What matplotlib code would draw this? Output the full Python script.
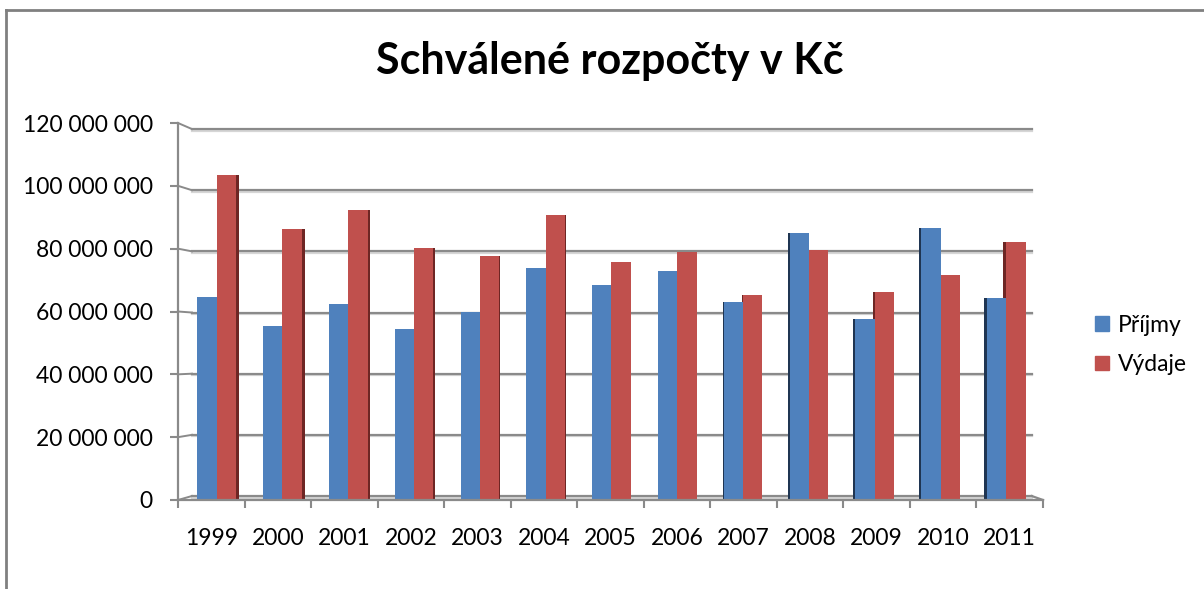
import matplotlib
matplotlib.use("Agg")
import matplotlib.pyplot as plt
from matplotlib.patches import Rectangle
from matplotlib.lines import Line2D

years = ["1999", "2000", "2001", "2002", "2003", "2004", "2005",
         "2006", "2007", "2008", "2009", "2010", "2011"]
prijmy = [64.7, 55.3, 62.3, 54.3, 59.7, 73.8, 68.3, 73.0, 63.1, 84.9, 57.7, 86.5, 64.4]
vydaje = [103.4, 86.4, 92.3, 80.3, 77.6, 90.6, 75.8, 79.0, 65.3, 79.6, 66.3, 71.5, 82.1]
series_names = ["Příjmy", "Výdaje"]
yticks = [0, 20, 40, 60, 80, 100, 120]  # v milionech

BLUE = "#4F81BD"
RED = "#C0504D"
BLUE_SIDE = "#1F3552"
RED_SIDE = "#6E2624"
GRID = "#8A8A8A"

plt.rcParams["font.family"] = ["Lato", "DejaVu Sans"]

fig = plt.figure(figsize=(12.04, 5.89), dpi=100)
ax = fig.add_axes([178 / 1204, 89 / 589, 865 / 1204, 377 / 589])
ax.set_xlim(-0.5, 12.5)
ax.set_ylim(0, 120)


def back(v):
    # hodnota na zadni stene prevedena do prednich souradnic
    return (4 + 3.058 * v) / 3.1417


gx0, gx1 = -0.29, 12.33
for t in yticks:
    yb = back(t)
    ax.plot([gx0, gx1], [yb - 0.5, yb - 0.5], color="#D6D6D6", lw=1.6, zorder=1)
    ax.plot([gx0, gx1], [yb, yb], color=GRID, lw=1.6, zorder=1.1)
    ax.plot([-0.5, gx0], [t, yb], color=GRID, lw=1.4, zorder=1.1, clip_on=False)
ax.plot([gx1, 12.5], [back(0), 0], color=GRID, lw=1.6, zorder=1.1, clip_on=False)

# sloupce s bocni stenou (jednoduchy 3D dojem)
cx = 7.34
k = 0.989
w = 0.29
for i in range(len(years)):
    xc = cx + (i - cx) * k
    d = i - 6.2
    side = abs(d) * 0.0085
    xb = xc - w
    xr = xc
    for x0, h, sc in [(xb, prijmy[i], BLUE_SIDE), (xr, vydaje[i], RED_SIDE)]:
        if d < 0:
            ax.add_patch(Rectangle((x0 + w, 0), side, h, color=sc, lw=0, zorder=2))
        else:
            ax.add_patch(Rectangle((x0 - side, 0), side, h, color=sc, lw=0, zorder=2))
    ax.add_patch(Rectangle((xr, 0), w, vydaje[i], color=RED, lw=0, zorder=3))
    ax.add_patch(Rectangle((xb, 0), w, prijmy[i], color=BLUE, lw=0, zorder=3.1))

for s in ["top", "right"]:
    ax.spines[s].set_visible(False)
for s in ["left", "bottom"]:
    ax.spines[s].set_color(GRID)
    ax.spines[s].set_linewidth(1.6)
    ax.spines[s].set_zorder(4)

ax.set_yticks(yticks)
ax.set_yticklabels([f"{t * 1000000:,}".replace(",", " ") for t in yticks])
ax.tick_params(axis="y", length=6, width=1.5, color=GRID, pad=12, labelsize=16.5)

ax.set_xticks(range(len(years)))
ax.set_xticklabels(years)
ax.set_xticks([i - 0.5 for i in range(len(years) + 1)], minor=True)
ax.tick_params(axis="x", which="major", length=0, pad=20, labelsize=16.5)
ax.tick_params(axis="x", which="minor", length=6, width=1.5, color=GRID)

fig.text(610 / 1204, 1 - 74 / 589, "Schválené rozpočty v Kč", ha="center",
         va="baseline", fontsize=31, fontweight="bold")

handles = [Rectangle((0, 0), 1, 1, color=BLUE), Rectangle((0, 0), 1, 1, color=RED)]
fig.legend(handles, series_names, loc="center left",
           bbox_to_anchor=(1095 / 1204, 1 - 345 / 589), bbox_transform=fig.transFigure,
           frameon=False, fontsize=16.5, handlelength=0.6, handleheight=0.6,
           handletextpad=0.4, labelspacing=0.8, borderpad=0, borderaxespad=0)

# ramecek grafu (viditelny jen vlevo a nahore)
fig.add_artist(Line2D([6 / 1204, 6 / 1204], [0, 1 - 10 / 589], color="#808080", lw=2,
                      transform=fig.transFigure))
fig.add_artist(Line2D([6 / 1204, 1], [1 - 10 / 589, 1 - 10 / 589], color="#808080", lw=2,
                      transform=fig.transFigure))

fig.savefig("out.png", dpi=100)
